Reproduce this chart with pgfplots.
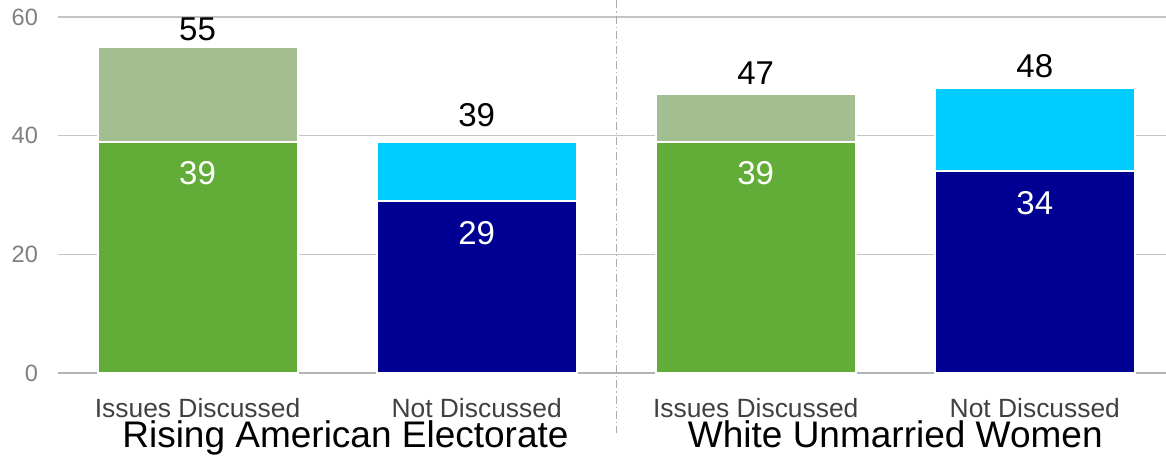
\documentclass[border=0pt]{standalone}
\usepackage{fontspec}
\setmainfont{Liberation Sans}
\usepackage{pgfplots}
\pgfplotsset{compat=1.18}
\usepackage{pgfplotstable}

\definecolor{lgreen}{HTML}{A3BE90}
\definecolor{dgreen}{HTML}{62AD37}
\definecolor{cyanb}{HTML}{00CCFF}
\definecolor{navy}{HTML}{000092}
\definecolor{gridc}{HTML}{C4C4C4}
\definecolor{axisc}{HTML}{B4B4B4}
\definecolor{ticklab}{HTML}{808080}
\definecolor{catlab}{HTML}{404040}

\pgfplotstableread{
x y dy
0 55 2.4
2 47 4.1
}\toplightgreen
\pgfplotstableread{
x y dy
1 39 7.1
3 48 4.6
}\topcyan
\pgfplotstableread{
x y
0 39
2 39
}\botgreen
\pgfplotstableread{
x y
1 29
3 34
}\botnavy

\begin{document}
\begin{tikzpicture}
\begin{axis}[
  name=ax,
  at={(0,0)}, anchor=south west,
  scale only axis, width=554pt, height=178pt,
  xmin=-0.5, xmax=3.47, ymin=0, ymax=60,
  ybar, bar width=100pt,
  clip=false,
  /pgf/number format/assume math mode=true,
  axis x line*=bottom, axis y line*=left,
  x axis line style={draw=axisc, line width=1pt, -},
  y axis line style={draw=none},
  ymajorgrids, grid style={draw=gridc, line width=0.7pt},
  major tick length=0pt,
  ytick={0,20,40,60},
  ytick style={draw=none},
  yticklabel style={font=\fontsize{11.8}{14}\selectfont, text=ticklab, anchor=east, inner sep=0pt, xshift=-9.8pt},
  xtick={0,1,2,3},
  xticklabels={Issues Discussed, Not Discussed, Issues Discussed, Not Discussed},
  xtick style={draw=none},
  xticklabel style={font=\fontsize{13.2}{16}\selectfont, text=catlab, anchor=base, inner sep=0pt, yshift=-22.15pt},
  extra x ticks={-0.5,0.5,2.5},
  extra x tick labels={},
  extra x tick style={tick style={draw=axisc, line width=1pt}, major tick length=3pt, tick align=outside, grid=none},
]
\addplot[fill=lgreen, draw=white, line width=1pt, bar shift=0pt,
  nodes near coords, visualization depends on={\thisrow{dy} \as \dy},
  every node near coord/.append style={font=\fontsize{16.5}{19}\selectfont, text=black, draw=none, inner sep=0pt, anchor=south, yshift=\dy pt}]
  table[x=x,y=y]{\toplightgreen};
\addplot[fill=cyanb, draw=white, line width=1pt, bar shift=0pt,
  nodes near coords, visualization depends on={\thisrow{dy} \as \dy},
  every node near coord/.append style={font=\fontsize{16.5}{19}\selectfont, text=black, draw=none, inner sep=0pt, anchor=south, yshift=\dy pt}]
  table[x=x,y=y]{\topcyan};
\addplot[fill=dgreen, draw=white, line width=1pt, bar shift=0pt,
  nodes near coords,
  every node near coord/.append style={font=\fontsize{16.5}{19}\selectfont, text=white, draw=none, inner sep=0pt, anchor=north, yshift=-9.6pt}]
  table[x=x,y=y]{\botgreen};
\addplot[fill=navy, draw=white, line width=1pt, bar shift=0pt,
  nodes near coords,
  every node near coord/.append style={font=\fontsize{16.5}{19}\selectfont, text=white, draw=none, inner sep=0pt, anchor=north, yshift=-9.6pt}]
  table[x=x,y=y]{\botnavy};
\draw[draw=gray!65, line width=0.6pt, dash pattern=on 4pt off 1.5pt on 0.6pt off 1.5pt]
  (axis cs:1.5,62.8) -- (axis cs:1.5,-10.1);
\node[font=\fontsize{18.5}{22}\selectfont, anchor=base, inner sep=0pt, yshift=-37.5pt] at (axis cs:0.53,0) {Rising American Electorate};
\node[font=\fontsize{18.5}{22}\selectfont, anchor=base, inner sep=0pt, yshift=-37.5pt] at (axis cs:2.5,0) {White Unmarried Women};
\end{axis}
\pgfresetboundingbox
\path ([xshift=-29pt,yshift=8.5pt]ax.north west) rectangle ([yshift=-43pt]ax.south east);
\end{tikzpicture}
\end{document}
